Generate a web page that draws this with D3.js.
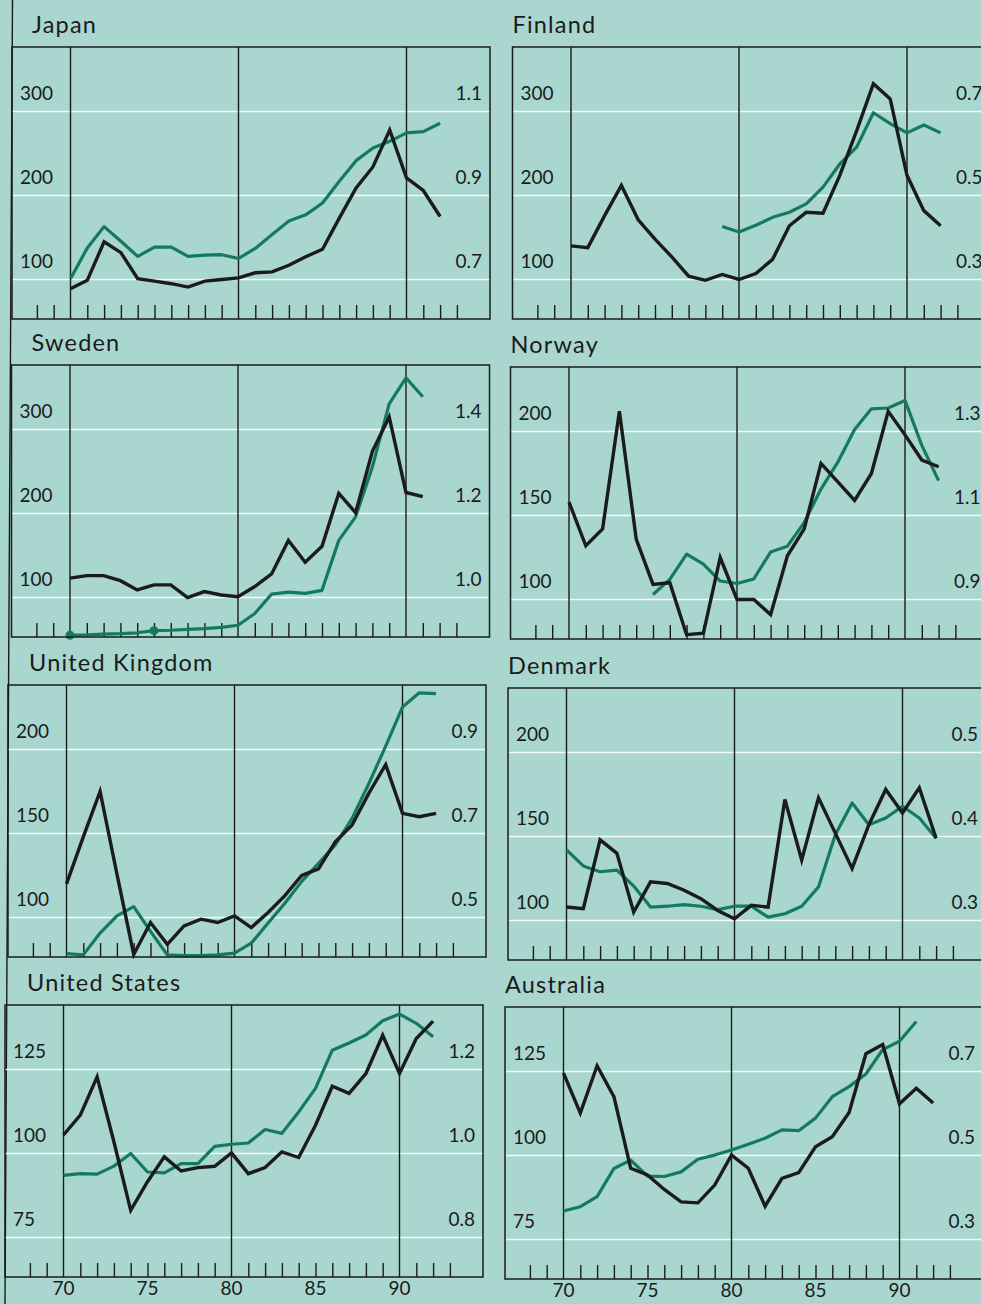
<!DOCTYPE html>
<html>
<head>
<meta charset="utf-8">
<script src="https://cdn.jsdelivr.net/npm/d3@7"></script>
<style>
  body { margin: 0; background: #a9d7d0; }
  svg { display: block; }
  text { font-family: Lato, "Open Sans", sans-serif; fill: #1b1b1b; }
</style>
</head>
<body>
<div class="chart"></div>
<script>
//Width and height
var w = 981;
var h = 1304;

//Years on the x axis
var years = [1970, 1971, 1972, 1973, 1974, 1975, 1976, 1977, 1978, 1979, 1980,
  1981, 1982, 1983, 1984, 1985, 1986, 1987, 1988, 1989, 1990, 1991, 1992];
var yearLabels = [1970, 1975, 1980, 1985, 1990];

//Black line = left axis, green line = right axis
var japanLeft = [89, 99, 145, 132, 101, 98, 95, 91, 98, 100, 102, 108, 109, 117, 127, 136, 173, 209, 234, 278, 221, 206, 175];
var japanRight = [0.702, 0.775, 0.826, 0.791, 0.755, 0.777, 0.777, 0.755, 0.758, 0.759, 0.750, 0.774, 0.807, 0.839, 0.854, 0.882, 0.934, 0.983, 1.013, 1.029, 1.049, 1.052, 1.072];
var japanLeftTicks = [100, 200, 300];
var japanRightTicks = [0.7, 0.9, 1.1];

var finlandLeft = [140, 138, 176, 212, 171, 148, 127, 104, 99, 106, 100, 107, 124, 164, 180, 179, 224, 277, 333, 315, 224, 182, 164];
var finlandRight = [null, null, null, null, null, null, null, null, null, 0.426, 0.413, 0.429, 0.448, 0.460, 0.480, 0.520, 0.575, 0.615, 0.697, 0.671, 0.649, 0.668, 0.649];
var finlandLeftTicks = [100, 200, 300];
var finlandRightTicks = [0.3, 0.5, 0.7];

var swedenLeft = [123, 126, 126, 120, 109, 115, 115, 100, 107, 103, 101, 113, 128, 168, 142, 161, 224, 201, 274, 315, 225, 220, null];
var swedenRight = [0.910, 0.911, 0.913, 0.914, 0.916, 0.921, 0.922, 0.924, 0.926, 0.929, 0.934, 0.962, 1.008, 1.013, 1.010, 1.017, 1.136, 1.192, 1.311, 1.461, 1.523, 1.478, null];
var swedenLeftTicks = [100, 200, 300];
var swedenRightTicks = [1.0, 1.2, 1.4];
var swedenDots = [1970, 1975];

var norwayLeft = [158, 132, 142, 212, 136, 109, 110, 79, 80, 125, 100, 100, 91, 126, 142, 181, 170, 159, 175, 212, 198, 183, 179];
var norwayRight = [null, null, null, null, null, 0.912, 0.948, 1.008, 0.984, 0.944, 0.938, 0.949, 1.013, 1.027, 1.083, 1.163, 1.227, 1.305, 1.354, 1.356, 1.374, 1.267, 1.183];
var norwayLeftTicks = [100, 150, 200];
var norwayRightTicks = [0.9, 1.1, 1.3];

var ukLeft = [120, 148, 175, 126, 78, 97, 84, 95, 99, 97, 101, 94, 103, 113, 125, 129, 145, 155, 174, 191, 162, 160, 162];
var ukRight = [0.414, 0.411, 0.463, 0.504, 0.526, 0.467, 0.411, 0.409, 0.409, 0.411, 0.415, 0.439, 0.487, 0.534, 0.586, 0.629, 0.673, 0.736, 0.819, 0.908, 1.001, 1.035, 1.033];
var ukLeftTicks = [100, 150, 200];
var ukRightTicks = [0.5, 0.7, 0.9];

var denmarkLeft = [108, 107, 148, 140, 105, 123, 122, 118, 113, 106, 101, 109, 108, 172, 136, 173, 152, 131, 157, 178, 164, 179, 149];
var denmarkRight = [0.384, 0.365, 0.358, 0.360, 0.341, 0.316, 0.317, 0.319, 0.317, 0.313, 0.317, 0.317, 0.304, 0.308, 0.317, 0.340, 0.402, 0.440, 0.414, 0.422, 0.436, 0.422, 0.398];
var denmarkLeftTicks = [100, 150, 200];
var denmarkRightTicks = [0.3, 0.4, 0.5];

var usLeft = [105.5, 111.4, 122.8, 103.5, 83.1, 91.6, 99, 94.8, 95.8, 96.2, 100.2, 94, 95.8, 100.5, 98.8, 108.4, 120, 117.9, 123.8, 135.2, 123.8, 134.2, 139.4];
var usRight = [0.948, 0.952, 0.951, 0.970, 1.000, 0.956, 0.954, 0.976, 0.976, 1.017, 1.022, 1.025, 1.057, 1.048, 1.099, 1.155, 1.246, 1.263, 1.282, 1.316, 1.332, 1.310, 1.278];
var usLeftTicks = [75, 100, 125];
var usRightTicks = [0.8, 1.0, 1.2];

var australiaLeft = [124.5, 112.6, 126.7, 117.5, 96.2, 94.2, 89.9, 86.2, 85.9, 91.2, 100.1, 96.2, 84.9, 93.2, 94.9, 102.6, 105.6, 112.8, 130.3, 133, 115.4, 120, 115.6];
var australiaRight = [0.368, 0.378, 0.402, 0.469, 0.489, 0.451, 0.450, 0.461, 0.491, 0.501, 0.513, 0.527, 0.541, 0.561, 0.559, 0.589, 0.640, 0.664, 0.694, 0.752, 0.772, 0.819, null];
var australiaLeftTicks = [75, 100, 125];
var australiaRightTicks = [0.3, 0.5, 0.7];

var panels = [
  { name: "Japan", left: japanLeft, right: japanRight, lt: japanLeftTicks, rt: japanRightTicks },
  { name: "Finland", left: finlandLeft, right: finlandRight, lt: finlandLeftTicks, rt: finlandRightTicks },
  { name: "Sweden", left: swedenLeft, right: swedenRight, lt: swedenLeftTicks, rt: swedenRightTicks, dots: swedenDots },
  { name: "Norway", left: norwayLeft, right: norwayRight, lt: norwayLeftTicks, rt: norwayRightTicks },
  { name: "United Kingdom", left: ukLeft, right: ukRight, lt: ukLeftTicks, rt: ukRightTicks },
  { name: "Denmark", left: denmarkLeft, right: denmarkRight, lt: denmarkLeftTicks, rt: denmarkRightTicks },
  { name: "United States", left: usLeft, right: usRight, lt: usLeftTicks, rt: usRightTicks, bottom: true },
  { name: "Australia", left: australiaLeft, right: australiaRight, lt: australiaLeftTicks, rt: australiaRightTicks, bottom: true }
];

//Box position of each panel (the scan is slightly skewed)
var boxes = [
  { x: 12, y: 47, tx: 20 }, { x: 512.5, y: 47, tx: 0 },
  { x: 11.5, y: 365, tx: 20 }, { x: 510.5, y: 367, tx: 0 },
  { x: 8, y: 685, tx: 21 }, { x: 508, y: 688, tx: 0 },
  { x: 5, y: 1005, tx: 22 }, { x: 505, y: 1007, tx: 0 }
];
var pw = 478;
var ph = 272;

var black = "#1b1b1b";
var green = "#137a60";

//Create SVG element
var svg = d3.select(".chart")
  .append("svg")
  .attr("width", w)
  .attr("height", h);

svg.append("rect")
  .attr("width", w)
  .attr("height", h)
  .attr("fill", "#a9d7d0");

//Left frame line of the first column
svg.append("line")
  .attr("x1", 12.5).attr("y1", 0)
  .attr("x2", 5).attr("y2", h)
  .attr("stroke", black)
  .attr("stroke-width", 1.4);

var xScale = d3.scaleLinear()
  .domain([1970, 1990])
  .range([58.5, 394.5]);

var minorYears = d3.range(1968, 1994).filter((d) => d % 10 !== 0);
var fmt = d3.format(".1f");

panels.forEach((p, i) => {
  var b = boxes[i];
  var g = svg.append("g")
    .attr("transform", "translate(" + b.x + "," + b.y + ")");

  var yLeft = d3.scaleLinear().domain([p.lt[0], p.lt[2]]).range([232.5, 64.5]);
  var yRight = d3.scaleLinear().domain([p.rt[0], p.rt[2]]).range([232.5, 64.5]);

  //Title
  g.append("text")
    .attr("x", b.tx)
    .attr("y", -14)
    .attr("font-size", 23.5)
    .attr("letter-spacing", 1.2)
    .text(p.name);

  //White gridlines
  g.selectAll(".grid")
    .data(p.lt)
    .enter()
    .append("line")
    .attr("x1", 0).attr("x2", pw)
    .attr("y1", (d) => yLeft(d)).attr("y2", (d) => yLeft(d))
    .attr("stroke", "#f4fbf9")
    .attr("stroke-width", 1.6);

  //Axis labels sit above the gridlines
  g.selectAll(".lab-l")
    .data(p.lt)
    .enter()
    .append("text")
    .attr("x", 8)
    .attr("y", (d) => yLeft(d) - 12)
    .attr("font-size", 19)
    .text((d) => d);

  g.selectAll(".lab-r")
    .data(p.rt)
    .enter()
    .append("text")
    .attr("x", 470)
    .attr("y", (d) => yRight(d) - 12)
    .attr("font-size", 19)
    .attr("text-anchor", "end")
    .text((d) => fmt(d));

  //Decade lines
  g.selectAll(".decade")
    .data([1970, 1980, 1990])
    .enter()
    .append("line")
    .attr("x1", (d) => xScale(d)).attr("x2", (d) => xScale(d))
    .attr("y1", 0).attr("y2", ph)
    .attr("stroke", black)
    .attr("stroke-width", 1.4);

  //Year ticks
  var xAxis = d3.axisBottom(xScale)
    .tickValues(minorYears)
    .tickSize(-14)
    .tickFormat("");
  var ax = g.append("g")
    .attr("transform", "translate(0," + ph + ")")
    .call(xAxis);
  ax.select(".domain").remove();
  ax.selectAll("line").attr("stroke", black).attr("stroke-width", 1.4);

  //Green line (right axis)
  var lineR = d3.line()
    .defined((d) => d != null)
    .x((d, j) => xScale(years[j]))
    .y((d) => yRight(d));
  g.append("path")
    .datum(p.right)
    .attr("d", lineR)
    .attr("fill", "none")
    .attr("stroke", green)
    .attr("stroke-width", 3.2)
    .attr("stroke-linejoin", "round");

  if (p.dots) {
    g.selectAll(".dot")
      .data(p.dots)
      .enter()
      .append("circle")
      .attr("cx", (d) => xScale(d))
      .attr("cy", (d) => yRight(p.right[years.indexOf(d)]))
      .attr("r", 4.5)
      .attr("fill", green);
  }

  //Black line (left axis)
  var lineL = d3.line()
    .defined((d) => d != null)
    .x((d, j) => xScale(years[j]))
    .y((d) => yLeft(d));
  g.append("path")
    .datum(p.left)
    .attr("d", lineL)
    .attr("fill", "none")
    .attr("stroke", black)
    .attr("stroke-width", 3.4)
    .attr("stroke-linejoin", "miter");

  //Box
  g.append("rect")
    .attr("width", pw)
    .attr("height", ph)
    .attr("fill", "none")
    .attr("stroke", black)
    .attr("stroke-width", 1.5);

  //Year labels under the bottom row
  if (p.bottom) {
    g.selectAll(".yl")
      .data(yearLabels)
      .enter()
      .append("text")
      .attr("x", (d) => xScale(d))
      .attr("y", ph + 18)
      .attr("font-size", 19)
      .attr("text-anchor", "middle")
      .text((d) => String(d).slice(2));
  }
});
</script>
</body>
</html>
